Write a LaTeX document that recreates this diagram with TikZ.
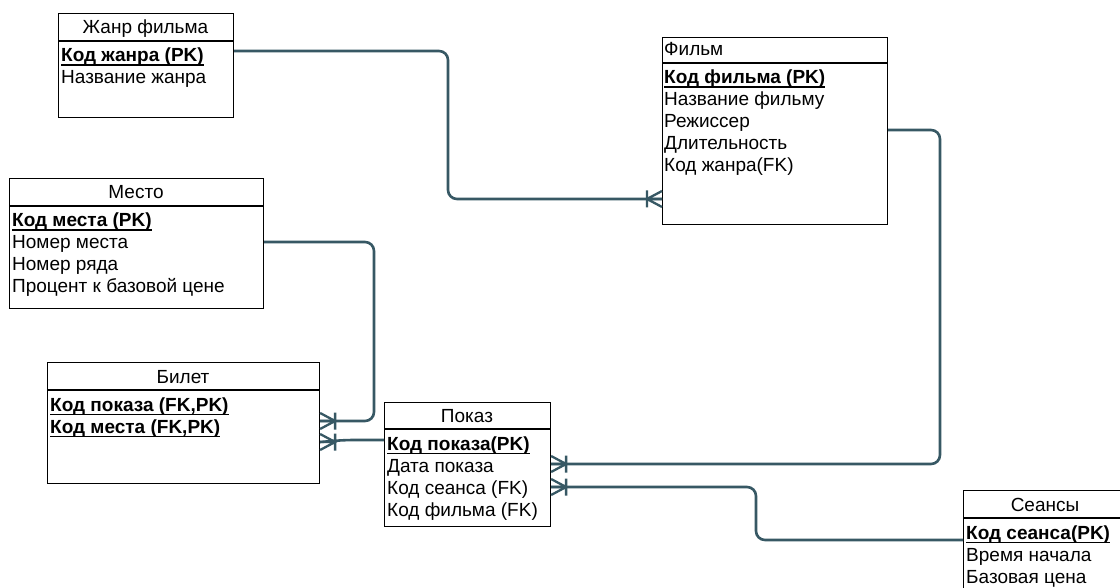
\documentclass[tikz,border=0pt]{standalone}
\usepackage{fontspec}
\setmainfont{Liberation Sans}
\definecolor{conn}{RGB}{55,88,100}
\newcommand\fsz{\fontsize{19}{22}\selectfont}
\tikzset{
  tbl/.style={draw=black, fill=white, line width=1.1pt, inner sep=0pt, anchor=north west},
  hline/.style={draw=black, line width=1.1pt},
  fld/.style={anchor=base west, inner sep=0pt, font=\fsz},
  pkfld/.style={anchor=base west, inner sep=0pt, font=\fsz\bfseries},
  uline/.style={draw=black, line width=1.4pt},
  ttl/.style={anchor=base, inner sep=0pt, font=\fsz},
  rel/.style={draw=conn, line width=2.6pt, rounded corners=9pt},
  foot/.style={draw=conn, line width=2.3pt},
}
\newcommand\erbox[6]{%
  \node[tbl, minimum width=#4pt, minimum height=#5pt] (#1) at (#2,#3) {};
  \draw[hline] (#1.north west) ++(0,#6) -- ++(#4,0);}
\newcommand\pkrow[4]{% name, x, y, text
  \node[pkfld] (#1) at (#2,#3) {#4};
  \draw[uline] ([yshift=-3.2pt]#1.base west) -- ([yshift=-3.2pt]#1.base east);}
\newcommand\crow[2]{%
  \begin{scope}[shift={(#1)}, xscale=#2]
    \draw[foot] (0,-8) -- (15,0) -- (0,8) (0,0) -- (15,0) (15,-8.5) -- (15,8.5);
  \end{scope}}
\begin{document}
\begin{tikzpicture}[x=1pt, y=-1pt]
  \clip (0,0) rectangle (1120,588);
  \fill[white] (0,0) rectangle (1120,588);

  % tables
  \erbox{genre}{58}{13}{175}{104}{28}
  \erbox{film}{662}{37}{225}{187}{26}
  \erbox{mesto}{9}{178}{254}{130}{28}
  \erbox{bilet}{47}{362}{272}{121}{28}
  \erbox{pokaz}{384}{402}{166}{124}{27}
  \erbox{seans}{963}{490}{164}{120}{28}

  % genre
  \node[ttl] (genreT) at (145.5,34) {Жанр фильма};
  \pkrow{genre1}{61}{62}{Код жанра (PK)}
  \node[fld] (genre2) at (61,84) {Название жанра};

  % film
  \node[fld] (filmT) at (664,56) {Фильм};
  \pkrow{film1}{664}{84}{Код фильма (PK)}
  \node[fld] (film2) at (664,106) {Название фильму};
  \node[fld] (film3) at (664,128) {Режиссер};
  \node[fld] (film4) at (664,150) {Длительность};
  \node[fld] (film5) at (664,172) {Код жанра(FK)};

  % mesto
  \node[ttl] (mestoT) at (136,199) {Место};
  \pkrow{mesto1}{12}{227}{Код места (PK)}
  \node[fld] (mesto2) at (12,249) {Номер места};
  \node[fld] (mesto3) at (12,271) {Номер ряда};
  \node[fld] (mesto4) at (12,293) {Процент к базовой цене};

  % bilet
  \node[ttl] (biletT) at (183,383) {Билет};
  \pkrow{bilet1}{50}{411}{Код показа (FK,PK)}
  \pkrow{bilet2}{50}{433}{Код места (FK,PK)}

  % pokaz
  \node[ttl] (pokazT) at (467,422) {Показ};
  \pkrow{pokaz1}{387}{450}{Код показа(PK)}
  \node[fld] (pokaz2) at (387,472) {Дата показа};
  \node[fld] (pokaz3) at (387,494) {Код сеанса (FK)};
  \node[fld] (pokaz4) at (387,516) {Код фильма (FK)};

  % seans
  \node[ttl] (seansT) at (1045,511) {Сеансы};
  \pkrow{seans1}{966}{539}{Код сеанса(PK)}
  \node[fld] (seans2) at (966,561) {Время начала};
  \node[fld] (seans3) at (966,583) {Базовая цена};

  % connector end points
  \coordinate (eFilm) at (film.west |- 0,199);
  \coordinate (ePokF) at (pokaz.east |- 0,464);
  \coordinate (ePokS) at (pokaz.east |- 0,487);
  \coordinate (eBilM) at (bilet.east |- 0,421);
  \coordinate (eBilP) at (bilet.east |- 0,442);

  % connectors
  \draw[rel] (genre.east |- 0,51) -- (448,51) -- (448,199) -- (eFilm);
  \draw[rel] (film.east |- 0,130) -- (940,130) -- (940,464) -- (ePokF);
  \draw[rel] (seans.west |- 0,540) -- (756,540) -- (756,487) -- (ePokS);
  \draw[rel] (mesto.east |- 0,242) -- (374,242) -- (374,421) -- (eBilM);
  \draw[rel] (pokaz.west |- 0,440) -- (345,440) -- (eBilP);

  % crow's feet
  \crow{eFilm}{-1}
  \crow{ePokF}{1}
  \crow{ePokS}{1}
  \crow{eBilM}{1}
  \crow{eBilP}{1}
\end{tikzpicture}
\end{document}
